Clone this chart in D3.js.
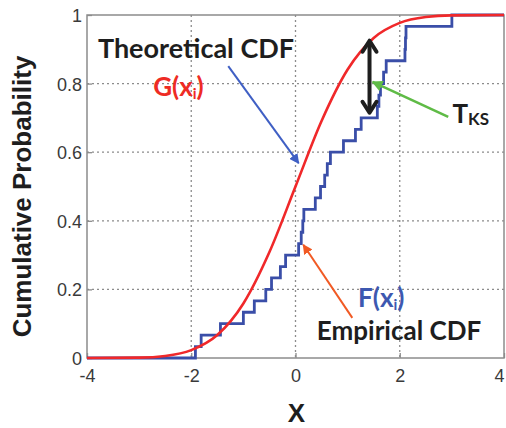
<!DOCTYPE html>
<html>
<head>
<meta charset="utf-8">
<script src="https://cdn.jsdelivr.net/npm/d3@7"></script>
<style>
  body { margin: 0; background: #fff; }
  svg { display: block; }
  .tick text { font-family: "Liberation Sans", Arial, sans-serif; font-size: 18px; fill: #3a3a3a; }
  .note { font-family: Lato, "Open Sans", sans-serif; font-weight: 700; }
</style>
</head>
<body>
<svg id="chart" width="506" height="428"></svg>
<script>
'use strict';

// sorted sample (30 points)
var sampleX = [-1.92, -1.81, -1.44, -1.00, -0.79, -0.57, -0.46, -0.29, -0.19, 0.06,
               0.11, 0.14, 0.16, 0.38, 0.48, 0.56, 0.61, 0.67, 0.92, 1.15,
               1.26, 1.57, 1.60, 1.63, 1.69, 1.74, 2.10, 2.11, 2.12, 3.00];

// red theoretical curve, read at half-unit steps
var theoX = [-4, -3, -2.5, -2, -1.5, -1, -0.5, 0, 0.5, 1, 1.5, 2, 2.5, 3, 4];
var theoY = [0, 0.001, 0.006, 0.023, 0.067, 0.159, 0.309, 0.5, 0.691, 0.841, 0.933, 0.977, 0.994, 0.999, 1];

var xTicks = [-4, -2, 0, 2, 4];
var yTicks = [0, 0.2, 0.4, 0.6, 0.8, 1];

var margin = {top: 15, right: 2, bottom: 70, left: 87};
var width = 506 - margin.left - margin.right;
var height = 428 - margin.top - margin.bottom;

var svg = d3.select('#chart');
var g = svg.append('g').attr('transform', 'translate(' + margin.left + ',' + margin.top + ')');

var x = d3.scaleLinear().domain([-4, 4]).range([0, width]);
var y = d3.scaleLinear().domain([0, 1]).range([height, 0]);

// arrow markers
var defs = svg.append('defs');
function marker(id, color, size) {
	defs.append('marker')
		.attr('id', id)
		.attr('viewBox', '0 0 10 10')
		.attr('refX', 9).attr('refY', 5)
		.attr('markerUnits', 'userSpaceOnUse')
		.attr('markerWidth', size).attr('markerHeight', size)
		.attr('orient', 'auto')
		.append('path')
		.attr('d', 'M0,0 L10,5 L0,10 Z')
		.attr('fill', color);
}
marker('ab', '#3f5fc4', 10);
marker('ao', '#f15a24', 10);
marker('ag', '#5fbb46', 11);

// grid
g.append('g').selectAll('line').data([-2, 0, 2]).enter().append('line')
	.attr('x1', function(d) { return x(d); }).attr('x2', function(d) { return x(d); })
	.attr('y1', 0).attr('y2', height)
	.attr('stroke', '#8c8c8c').attr('stroke-width', 1.3).attr('stroke-dasharray', '2,3');
g.append('g').selectAll('line').data([0.2, 0.4, 0.6, 0.8]).enter().append('line')
	.attr('y1', function(d) { return y(d); }).attr('y2', function(d) { return y(d); })
	.attr('x1', 0).attr('x2', width)
	.attr('stroke', '#8c8c8c').attr('stroke-width', 1.3).attr('stroke-dasharray', '2,3');

// axes
var xAxis = g.append('g')
	.attr('transform', 'translate(0,' + height + ')')
	.call(d3.axisBottom(x).tickValues(xTicks).tickSizeInner(-5).tickSizeOuter(0).tickPadding(11)
		.tickFormat(function(d) { return String(d); }));
var yAxis = g.append('g')
	.call(d3.axisLeft(y).tickValues(yTicks).tickSizeInner(-5).tickSizeOuter(0).tickPadding(5)
		.tickFormat(function(d) { return String(d); }));
xAxis.select('.domain').remove();
yAxis.select('.domain').remove();
g.selectAll('.tick line').attr('stroke', '#8c8c8c').attr('stroke-width', 1.3);
yAxis.selectAll('.tick text').attr('dy', '0.36em');
// keep the last x label inside the window
xAxis.selectAll('.tick text').filter(function(d) { return d === 4; }).attr('text-anchor', 'end').attr('dx', 0);

g.append('rect')
	.attr('width', width).attr('height', height)
	.attr('fill', 'none').attr('stroke', '#8c8c8c').attr('stroke-width', 1.5);

// empirical CDF (step)
var n = sampleX.length;
var ecdf = [[-4, 0]];
sampleX.forEach(function(v, i) { ecdf.push([v, (i + 1) / n]); });
ecdf.push([4, 1]);

g.append('path')
	.datum(ecdf)
	.attr('fill', 'none').attr('stroke', '#3a4ea8').attr('stroke-width', 2.8)
	.attr('d', d3.line()
		.x(function(d) { return x(d[0]); })
		.y(function(d) { return y(d[1]); })
		.curve(d3.curveStepAfter));

// theoretical CDF
g.append('path')
	.datum(theoX.map(function(v, i) { return [v, theoY[i]]; }))
	.attr('fill', 'none').attr('stroke', '#f0282a').attr('stroke-width', 2.6)
	.attr('d', d3.line()
		.x(function(d) { return x(d[0]); })
		.y(function(d) { return y(d[1]); })
		.curve(d3.curveMonotoneX));

// annotation arrows
function arrow(x1, y1, x2, y2, color, w, id) {
	g.append('line')
		.attr('x1', x(x1)).attr('y1', y(y1)).attr('x2', x(x2)).attr('y2', y(y2))
		.attr('stroke', color).attr('stroke-width', w)
		.attr('marker-end', 'url(#' + id + ')');
}
arrow(-1.29, 0.851, 0.06, 0.568, '#3f5fc4', 2, 'ab');
arrow(1.09, 0.117, 0.15, 0.33, '#f15a24', 2, 'ao');
arrow(2.93, 0.703, 1.48, 0.805, '#5fbb46', 2.6, 'ag');

// KS distance double arrow
var ksX = 1.42, ksTop = 0.925, ksBot = 0.715;
var kx = x(ksX), kt = y(ksTop), kb = y(ksBot);
g.append('line')
	.attr('x1', kx).attr('x2', kx).attr('y1', kt + 1).attr('y2', kb - 1)
	.attr('stroke', '#1e1e1e').attr('stroke-width', 4);
g.append('path')
	.attr('d', 'M' + (kx - 7) + ',' + (kt + 11) + ' L' + kx + ',' + kt + ' L' + (kx + 7) + ',' + (kt + 11) +
		' M' + (kx - 7) + ',' + (kb - 11) + ' L' + kx + ',' + kb + ' L' + (kx + 7) + ',' + (kb - 11))
	.attr('fill', 'none').attr('stroke', '#1e1e1e').attr('stroke-width', 4)
	.attr('stroke-linejoin', 'round').attr('stroke-linecap', 'round');

// labels
function label(xv, yv, parts, color, size) {
	var t = g.append('text').attr('class', 'note')
		.attr('x', x(xv)).attr('y', y(yv))
		.attr('fill', color).attr('font-size', size);
	parts.forEach(function(p) {
		var s = t.append('tspan').text(p.text);
		if (p.size) s.attr('font-size', p.size);
		if (p.dy) s.attr('dy', p.dy);
	});
}
label(-3.79, 0.875, [{text: 'Theoretical CDF'}], '#1e1e1e', 27);
label(-2.73, 0.765, [{text: 'G(x'}, {text: 'i', size: 15, dy: 3}, {text: ')', dy: -3}], '#ee2b24', 26);
label(1.20, 0.150, [{text: 'F(x'}, {text: 'i', size: 15, dy: 3}, {text: ')', dy: -3}], '#3d58b0', 26);
label(0.41, 0.053, [{text: 'Empirical CDF'}], '#1e1e1e', 26);
label(3.01, 0.686, [{text: 'T'}, {text: 'KS', size: 17, dy: 2}], '#1e1e1e', 26);

// axis titles
svg.append('text')
	.attr('x', margin.left + x(0) + 1).attr('y', 422)
	.attr('text-anchor', 'middle')
	.attr('font-family', '"Liberation Sans", Arial, sans-serif')
	.attr('font-weight', 700).attr('font-size', 26).attr('fill', '#1e1e1e')
	.text('X');
svg.append('text')
	.attr('transform', 'translate(31,' + (margin.top + height / 2 + 10) + ') rotate(-90)')
	.attr('text-anchor', 'middle')
	.attr('font-family', '"Liberation Sans", Arial, sans-serif')
	.attr('font-weight', 700).attr('font-size', 26).attr('fill', '#1e1e1e')
	.text('Cumulative Probability');
</script>
</body>
</html>
